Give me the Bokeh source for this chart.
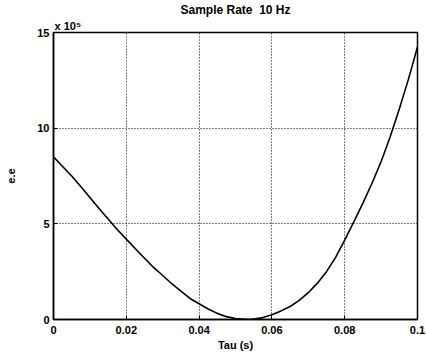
from bokeh.plotting import figure
from bokeh.models import Range1d, FixedTicker, Title
from bokeh.embed import file_html
from bokeh.resources import INLINE

# Data (values in units of 1e5)
tau = [0.0, 0.0025, 0.005, 0.0075, 0.01, 0.0125, 0.015, 0.0175, 0.02, 0.0225,
       0.025, 0.0275, 0.03, 0.0325, 0.035, 0.0375, 0.04, 0.0425, 0.045, 0.0475,
       0.05, 0.0535, 0.055, 0.0575, 0.06, 0.0625, 0.065, 0.0675, 0.07, 0.0725,
       0.075, 0.0775, 0.08, 0.0825, 0.085, 0.0875, 0.09, 0.0925, 0.095, 0.0975, 0.1]
ee = [8.5, 8.0, 7.5, 6.95, 6.38, 5.8, 5.25, 4.7, 4.2, 3.7,
      3.2, 2.72, 2.3, 1.87, 1.48, 1.1, 0.82, 0.55, 0.32, 0.15,
      0.05, 0.0, 0.02, 0.1, 0.25, 0.45, 0.68, 1.0, 1.4, 1.9,
      2.5, 3.25, 4.15, 5.1, 6.08, 7.12, 8.25, 9.55, 11.0, 12.55, 14.25]

x_ticks = [0, 0.02, 0.04, 0.06, 0.08, 0.1]
x_tick_labels = ["0", "0.02", "0.04", "0.06", "0.08", "0.1"]
y_ticks = [0, 5, 10, 15]
y_tick_labels = ["0", "5", "10", "15"]

title_text = "Sample Rate\u00a0\u00a010 Hz"
scale_text = "x 10\u2075"
x_label = "Tau (s)"
y_label = "e.e"

FONT = "Liberation Sans"

p = figure(width=426, height=354, output_backend="svg", toolbar_location=None,
           x_range=Range1d(0, 0.1), y_range=Range1d(0, 15),
           min_border_left=53, min_border_right=9, min_border_top=0, min_border_bottom=35)
p.background_fill_color = "white"
p.border_fill_color = "white"
p.outline_line_color = "black"
p.outline_line_width = 1.5

p.title.text = title_text
p.title.align = "center"
p.title.text_font = FONT
p.title.text_font_size = "12px"
p.title.text_font_style = "bold"
p.title.text_color = "black"
p.title.standoff = 0
p.title.vertical_align = "bottom"

p.add_layout(Title(text=scale_text, align="left", text_font=FONT, text_font_size="11px",
                   text_font_style="bold", text_color="black", standoff=2, offset=1), "above")

for ax in (p.xaxis, p.yaxis):
    ax.major_tick_in = 4
    ax.major_tick_out = 0
    ax.minor_tick_line_color = None
    ax.axis_line_color = "black"
    ax.axis_line_width = 1.5
    ax.major_tick_line_color = "black"
    ax.major_label_text_font = FONT
    ax.major_label_text_font_style = "bold"
    ax.major_label_text_font_size = "11px"
    ax.major_label_text_color = "black"
    ax.axis_label_text_font = FONT
    ax.axis_label_text_font_style = "bold"
    ax.axis_label_text_font_size = "11px"
    ax.axis_label_text_color = "black"

p.xaxis.ticker = FixedTicker(ticks=x_ticks)
p.xaxis.major_label_overrides = {t: l for t, l in zip(x_ticks, x_tick_labels)}
p.yaxis.ticker = FixedTicker(ticks=y_ticks)
p.yaxis.major_label_overrides = {t: l for t, l in zip(y_ticks, y_tick_labels)}
p.xaxis.axis_label = x_label
p.yaxis.axis_label = y_label
p.xaxis.major_label_standoff = 6
p.yaxis.major_label_standoff = 4
p.xaxis.axis_label_standoff = 2
p.yaxis.axis_label_standoff = 19

for g in (p.xgrid, p.ygrid):
    g.grid_line_color = "black"
    g.grid_line_dash = "1 2"
    g.grid_line_width = 1
    g.grid_line_alpha = 1.0

p.line(tau, ee, line_color="black", line_width=1.6)

open("out.html", "w").write(file_html(p, INLINE))
